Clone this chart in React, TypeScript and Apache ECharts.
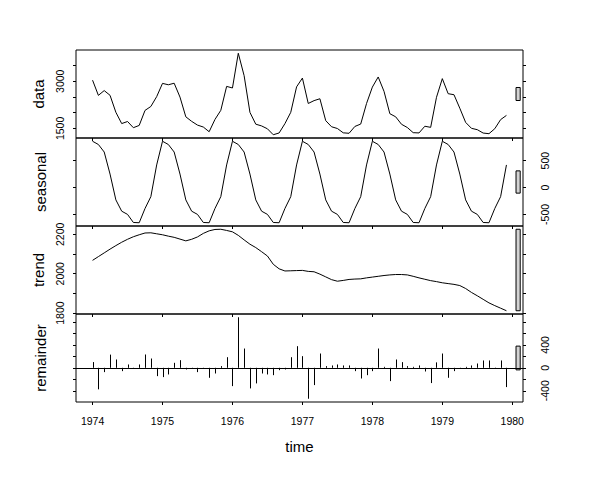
import React, { useEffect, useRef } from "react";
import * as echarts from "echarts";

const startYear = 1974;
const yearTicks = [1974, 1975, 1976, 1977, 1978, 1979, 1980];
const panelNames = ["data", "seasonal", "trend", "remainder"];

const dataValues = [
  3035, 2552, 2704, 2554, 2014, 1655, 1721, 1524, 1596, 2074, 2199, 2512,
  2933, 2889, 2938, 2497, 1870, 1726, 1607, 1545, 1396, 1787, 2076, 2837,
  2787, 3891, 3179, 2011, 1636, 1580, 1489, 1300, 1356, 1653, 2013, 2823,
  3102, 2294, 2385, 2444, 1748, 1554, 1498, 1361, 1346, 1564, 1640, 2293,
  2815, 3137, 2679, 1969, 1870, 1633, 1529, 1366, 1357, 1570, 1535, 2491,
  3084, 2605, 2573, 2143, 1693, 1504, 1461, 1354, 1333, 1492, 1781, 1915,
];

const seasonalValues = [
  860, 800, 660, 250, -230, -440, -500, -650, -655, -390, -170, 420,
  860, 800, 660, 250, -230, -440, -500, -650, -655, -390, -170, 420,
  860, 800, 660, 250, -230, -440, -500, -650, -655, -390, -170, 420,
  860, 800, 660, 250, -230, -440, -500, -650, -655, -390, -170, 420,
  860, 800, 660, 250, -230, -440, -500, -650, -655, -390, -170, 420,
  860, 800, 660, 250, -230, -440, -500, -650, -655, -390, -170, 420,
];

const trendValues = [
  2068, 2087, 2106, 2125, 2143, 2160, 2175, 2188, 2198, 2207, 2208, 2203,
  2198, 2191, 2185, 2176, 2167, 2175, 2187, 2205, 2218, 2225, 2226, 2220,
  2213, 2195, 2172, 2150, 2133, 2112, 2090, 2048, 2025, 2014, 2015, 2016,
  2017, 2012, 2010, 1998, 1984, 1970, 1962, 1966, 1971, 1973, 1974, 1979,
  1983, 1987, 1991, 1994, 1996, 1996, 1994, 1987, 1979, 1972, 1965, 1960,
  1954, 1950, 1946, 1940, 1925, 1905, 1888, 1870, 1852, 1838, 1825, 1812,
];

const remainderValues = [
  100, -375, -75, 230, 145, -58, 58, -17, 58, 232, 162, -145,
  -162, -116, 87, 133, -29, -9, -75, -10, -174, -99, 29, 185,
  -319, 881, 336, -359, -272, -99, -116, -128, -41, -29, 185, 377,
  203, -539, -301, 249, 29, 41, 58, 41, 41, -58, -186, -128,
  -58, 336, 17, -232, 145, 99, 29, 17, 41, -64, -266, 95,
  249, -174, -58, -10, 17, 41, 75, 128, 128, 5, 128, -336,
];

const yTicks = [
  [1500, 2000, 2500, 3000, 3500],
  [-500, 0, 500],
  [1800, 1900, 2000, 2100, 2200],
  [-400, -200, 0, 200, 400, 600, 800],
];
const yLabels = [
  [1500, 3000],
  [-500, 0, 500],
  [1800, 2000, 2200],
  [-400, 0, 400],
];

const FONT = "'Liberation Sans', Arial, sans-serif";

function ext(arr: number[]): [number, number] {
  const lo = Math.min(...arr);
  const hi = Math.max(...arr);
  const r = hi - lo;
  return [lo - 0.04 * r, hi + 0.04 * r];
}

export default function App() {
  const ref = useRef<HTMLDivElement>(null);
  useEffect(() => {
    const chart = echarts.init(ref.current!, null, { renderer: "svg" });
    const time = dataValues.map((_, i) => startYear + i / 12);
    const [xMin, xMax] = ext(time);
    const panels = [dataValues, seasonalValues, trendValues, remainderValues];
    const yExt = panels.map((p) => ext(p));
    const trendRange = Math.max(...trendValues) - Math.min(...trendValues);
    const dx = (xMax - xMin) / 64;
    const tops = [50, 138, 226, 314];
    const H = 88;

    const grids = tops.map((t) => ({
      left: 76,
      right: 77,
      top: t,
      height: H,
      show: true,
      borderColor: "#000",
      borderWidth: 1,
      backgroundColor: "transparent",
    }));

    const xAxes = tops.map((_, i) => ({
      type: "value",
      gridIndex: i,
      position: "bottom",
      min: xMin,
      max: xMax,
      axisLine: { show: false, onZero: false },
      splitLine: { show: false },
      axisTick: {
        show: true,
        length: 3,
        customValues: yearTicks,
        lineStyle: { color: "#000", width: 1 },
      },
      axisLabel: {
        show: i === 3,
        customValues: yearTicks,
        margin: 13,
        fontSize: 10.5,
        color: "#000",
        fontFamily: FONT,
        formatter: (v: number) => String(v),
      },
      name: i === 3 ? "time" : "",
      nameLocation: "middle",
      nameGap: 37,
      nameTextStyle: { fontSize: 15, color: "#000", fontFamily: FONT },
    }));

    const yAxes: any[] = [];
    tops.forEach((_, i) => {
      const labelsRight = i % 2 === 1;
      ["left", "right"].forEach((pos) => {
        const showLabels = (pos === "right") === labelsRight;
        yAxes.push({
          type: "value",
          gridIndex: i,
          position: pos,
          min: yExt[i][0],
          max: yExt[i][1],
          axisLine: { show: false, onZero: false },
          splitLine: { show: false },
          axisTick: {
            show: true,
            length: 3,
            customValues: yTicks[i],
            lineStyle: { color: "#000", width: 1 },
          },
          axisLabel: {
            show: showLabels,
            customValues: yLabels[i],
            rotate: 90,
            margin: pos === "left" ? 11 : 16,
            fontSize: 10.5,
            color: "#000",
            fontFamily: FONT,
            formatter: (v: number) => String(v),
          },
          name: pos === "left" ? panelNames[i] : "",
          nameLocation: "middle",
          nameRotate: 90,
          nameGap: 28,
          nameTextStyle: { fontSize: 15, color: "#000", fontFamily: FONT },
        });
      });
    });

    const series: any[] = [];
    panels.forEach((vals, i) => {
      if (i < 3) {
        series.push({
          type: "line",
          xAxisIndex: i,
          yAxisIndex: i * 2,
          data: vals.map((v, k) => [time[k], v]),
          showSymbol: false,
          symbol: "none",
          lineStyle: { color: "#000", width: 1 },
          silent: true,
        });
      } else {
        series.push({
          type: "custom",
          xAxisIndex: i,
          yAxisIndex: i * 2,
          data: vals.map((v, k) => [time[k], v]),
          encode: { x: 0, y: 1 },
          silent: true,
          renderItem: (params: any, api: any) => {
            const p0 = api.coord([api.value(0), 0]);
            const p1 = api.coord([api.value(0), api.value(1)]);
            const x = Math.round(p0[0]) + 0.5;
            return {
              type: "line",
              shape: { x1: x, y1: p0[1], x2: x, y2: p1[1] },
              style: { stroke: "#000", lineWidth: 1 },
            };
          },
          markLine: {
            silent: true,
            symbol: ["none", "none"],
            label: { show: false },
            lineStyle: { color: "#000", type: "solid", width: 1 },
            data: [{ yAxis: 0 }],
          },
        });
      }
      const mid = (yExt[i][0] + yExt[i][1]) / 2;
      series.push({
        type: "custom",
        xAxisIndex: i,
        yAxisIndex: i * 2,
        silent: true,
        data: [[xMax - dx, xMax - 0.4 * dx, mid - trendRange / 2, mid + trendRange / 2]],
        encode: { x: [0, 1], y: [2, 3] },
        renderItem: (params: any, api: any) => {
          const a = api.coord([api.value(0), api.value(3)]);
          const b = api.coord([api.value(1), api.value(2)]);
          return {
            type: "rect",
            shape: { x: a[0], y: a[1], width: b[0] - a[0], height: b[1] - a[1] },
            style: { fill: "#d3d3d3", stroke: "#000", lineWidth: 1 },
          };
        },
      });
    });

    chart.setOption({
      animation: false,
      backgroundColor: "#fff",
      textStyle: { fontFamily: FONT },
      grid: grids,
      xAxis: xAxes,
      yAxis: yAxes,
      series,
    });
    return () => chart.dispose();
  }, []);
  return (
    <div
      ref={ref}
      style={{ position: "fixed", left: 0, top: 0, width: 600, height: 479, background: "#fff" }}
    />
  );
}
